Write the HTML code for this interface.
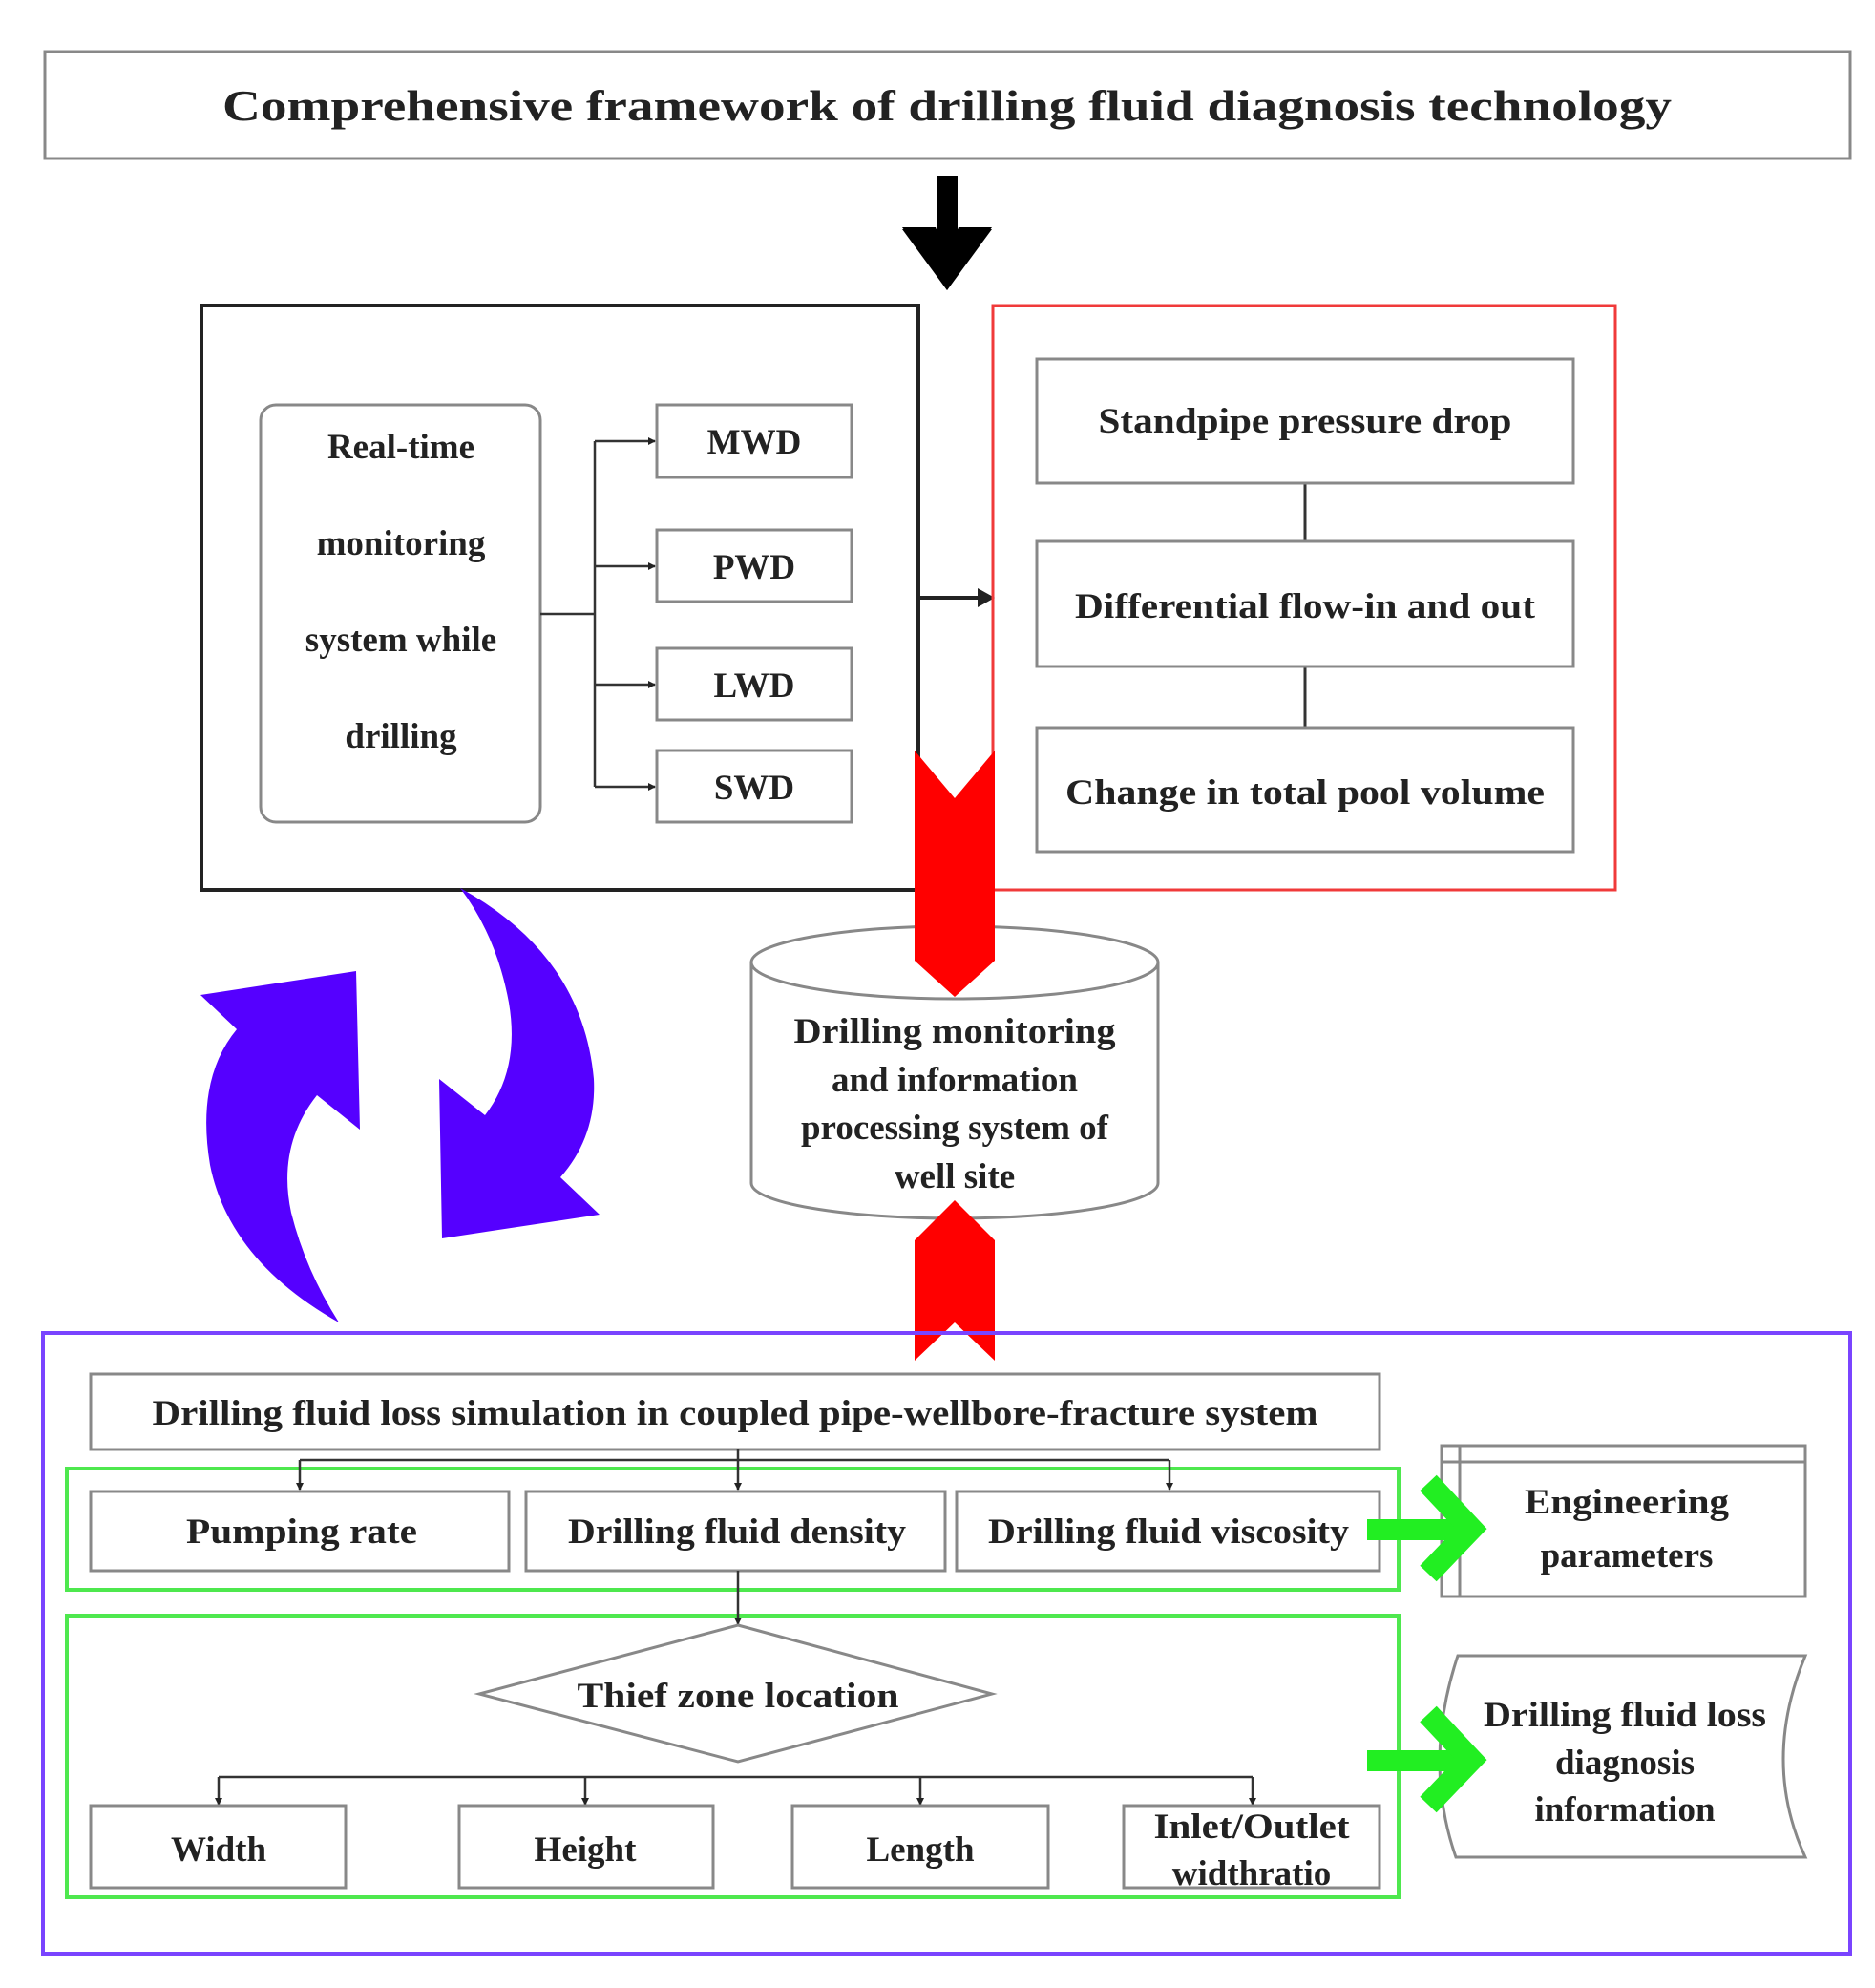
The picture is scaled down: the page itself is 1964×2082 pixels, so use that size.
<!DOCTYPE html>
<html><head><meta charset="utf-8"><style>
html,body{margin:0;padding:0;background:#fff}
svg{display:block}
text{font-family:"Liberation Serif",serif;font-weight:bold;fill:#222}
</style></head><body>
<svg width="1964" height="2082" viewBox="0 0 1964 2082" xmlns="http://www.w3.org/2000/svg">
<defs>
<marker id="ah" markerWidth="8" markerHeight="8" refX="7" refY="4" orient="auto" markerUnits="userSpaceOnUse"><path d="M0,0 L8,4 L0,8 z" fill="#222"/></marker>
</defs>
<!-- title -->
<rect x="47" y="54" width="1891" height="112" fill="#fff" stroke="#888" stroke-width="3"/>
<text x="992" y="126" font-size="46" text-anchor="middle" textLength="1518" lengthAdjust="spacingAndGlyphs">Comprehensive framework of drilling fluid diagnosis technology</text>
<!-- black arrow -->
<rect x="982" y="184" width="21" height="62" fill="#000"/>
<polygon points="945,240 1039,240 992,304" fill="#000"/>
<polygon points="945,238 980,238 992,270 1004,238 1039,238 992,304" fill="#000"/>

<!-- black box -->
<rect x="211" y="320" width="751" height="612" fill="none" stroke="#222" stroke-width="4"/>
<rect x="273" y="424" width="293" height="437" rx="16" fill="#fff" stroke="#888" stroke-width="3"/>
<g font-size="37" text-anchor="middle">
<text x="420" y="480">Real-time</text>
<text x="420" y="581">monitoring</text>
<text x="420" y="682">system while</text>
<text x="420" y="783">drilling</text>
</g>
<g stroke="#333" stroke-width="2.5" fill="none">
<line x1="566" y1="643" x2="623" y2="643"/>
<line x1="623" y1="462" x2="623" y2="824"/>
<line x1="623" y1="462" x2="686" y2="462" marker-end="url(#ah)"/>
<line x1="623" y1="593" x2="686" y2="593" marker-end="url(#ah)"/>
<line x1="623" y1="717" x2="686" y2="717" marker-end="url(#ah)"/>
<line x1="623" y1="824" x2="686" y2="824" marker-end="url(#ah)"/>
</g>
<g fill="#fff" stroke="#888" stroke-width="3">
<rect x="688" y="424" width="204" height="76"/>
<rect x="688" y="555" width="204" height="75"/>
<rect x="688" y="679" width="204" height="75"/>
<rect x="688" y="786" width="204" height="75"/>
</g>
<g font-size="37" text-anchor="middle">
<text x="790" y="475">MWD</text>
<text x="790" y="606">PWD</text>
<text x="790" y="730">LWD</text>
<text x="790" y="837">SWD</text>
</g>
<!-- arrow to red box -->
<line x1="962" y1="626" x2="1030" y2="626" stroke="#222" stroke-width="4"/>
<polygon points="1024,616 1042,626 1024,636" fill="#222"/>

<!-- red box -->
<rect x="1040" y="320" width="652" height="612" fill="none" stroke="#f03a3a" stroke-width="3"/>
<line x1="1367" y1="506" x2="1367" y2="567" stroke="#333" stroke-width="3"/>
<line x1="1367" y1="698" x2="1367" y2="762" stroke="#333" stroke-width="3"/>
<g fill="#fff" stroke="#888" stroke-width="3">
<rect x="1086" y="376" width="562" height="130"/>
<rect x="1086" y="567" width="562" height="131"/>
<rect x="1086" y="762" width="562" height="130"/>
</g>
<g font-size="37" text-anchor="middle">
<text x="1367" y="453" textLength="433" lengthAdjust="spacingAndGlyphs">Standpipe pressure drop</text>
<text x="1367" y="647" textLength="482" lengthAdjust="spacingAndGlyphs">Differential flow-in and out</text>
<text x="1367" y="842" textLength="502" lengthAdjust="spacingAndGlyphs">Change in total pool volume</text>
</g>

<!-- cylinder -->
<path d="M787,1008 L787,1239 A213,37 0 0 0 1213,1239 L1213,1008" fill="#fff" stroke="#888" stroke-width="3"/>
<ellipse cx="1000" cy="1008" rx="213" ry="38" fill="#fff" stroke="#888" stroke-width="3"/>
<!-- red arrows -->
<polygon points="958,786 1000,836 1042,786 1042,1006 1000,1044 958,1006" fill="#f00"/>
<polygon points="1000,1257 1042,1299 1042,1425 1000,1385 958,1425 958,1299" fill="#f00"/>
<g font-size="37" text-anchor="middle">
<text x="1000" y="1092" textLength="337" lengthAdjust="spacingAndGlyphs">Drilling monitoring</text>
<text x="1000" y="1143">and information</text>
<text x="1000" y="1193">processing system of</text>
<text x="1000" y="1244">well site</text>
</g>

<!-- purple cycle arrows -->
<path d="M210,1042 L373,1017 L377,1183 L332,1147 Q290,1200 305,1270 Q320,1330 355,1385 Q240,1320 220,1220 Q205,1130 248,1078 Z" fill="#5500ff"/>
<path d="M482,930 Q610,1000 622,1130 Q625,1190 587,1233 L628,1272 L463,1297 L460,1130 L508,1168 Q545,1120 533,1050 Q520,980 482,930 Z" fill="#5500ff"/>

<!-- purple box -->
<rect x="45" y="1396" width="1893" height="650" fill="none" stroke="#7a44ff" stroke-width="4"/>
<!-- sim box -->
<rect x="95" y="1439" width="1350" height="79" fill="#fff" stroke="#888" stroke-width="3"/>
<text x="770" y="1492" font-size="37" text-anchor="middle" textLength="1221" lengthAdjust="spacingAndGlyphs">Drilling fluid loss simulation in coupled pipe-wellbore-fracture system</text>
<!-- green box 1 -->
<rect x="70" y="1538" width="1395" height="127" fill="none" stroke="#4ee84e" stroke-width="4"/>
<g stroke="#333" stroke-width="2.5" fill="none">
<line x1="314" y1="1529" x2="1225" y2="1529"/>
<line x1="773" y1="1518" x2="773" y2="1560" marker-end="url(#ah)"/>
<line x1="314" y1="1529" x2="314" y2="1560" marker-end="url(#ah)"/>
<line x1="1225" y1="1529" x2="1225" y2="1560" marker-end="url(#ah)"/>
</g>
<g fill="#fff" stroke="#888" stroke-width="3">
<rect x="95" y="1562" width="438" height="83"/>
<rect x="551" y="1562" width="439" height="83"/>
<rect x="1002" y="1562" width="443" height="83"/>
</g>
<g font-size="37" text-anchor="middle">
<text x="316" y="1616" textLength="242" lengthAdjust="spacingAndGlyphs">Pumping rate</text>
<text x="772" y="1616" textLength="354" lengthAdjust="spacingAndGlyphs">Drilling fluid density</text>
<text x="1224" y="1616" textLength="378" lengthAdjust="spacingAndGlyphs">Drilling fluid viscosity</text>
</g>
<!-- engineering params -->
<rect x="1510" y="1514" width="381" height="158" fill="#fff" stroke="#888" stroke-width="3"/>
<line x1="1510" y1="1531" x2="1891" y2="1531" stroke="#888" stroke-width="3"/>
<line x1="1529" y1="1514" x2="1529" y2="1672" stroke="#888" stroke-width="3"/>
<g font-size="37" text-anchor="middle">
<text x="1704" y="1585" textLength="214" lengthAdjust="spacingAndGlyphs">Engineering</text>
<text x="1704" y="1641">parameters</text>
</g>
<!-- green arrow 1 -->
<rect x="1432" y="1591" width="100" height="22" fill="#22ee22"/>
<polyline points="1496,1553 1541,1601 1496,1648" fill="none" stroke="#22ee22" stroke-width="24"/>

<!-- green box 2 -->
<rect x="70" y="1692" width="1395" height="295" fill="none" stroke="#4ee84e" stroke-width="4"/>
<g stroke="#333" stroke-width="2.5" fill="none">
<line x1="773" y1="1645" x2="773" y2="1701" marker-end="url(#ah)"/>
<line x1="229" y1="1861" x2="1312" y2="1861"/>
<line x1="229" y1="1861" x2="229" y2="1890" marker-end="url(#ah)"/>
<line x1="613" y1="1861" x2="613" y2="1890" marker-end="url(#ah)"/>
<line x1="964" y1="1861" x2="964" y2="1890" marker-end="url(#ah)"/>
<line x1="1312" y1="1861" x2="1312" y2="1890" marker-end="url(#ah)"/>
</g>
<polygon points="773,1702 1039,1774 773,1845 502,1774" fill="#fff" stroke="#888" stroke-width="3"/>
<text x="773" y="1788" font-size="37" text-anchor="middle" textLength="337" lengthAdjust="spacingAndGlyphs">Thief zone location</text>
<g fill="#fff" stroke="#888" stroke-width="3">
<rect x="95" y="1891" width="267" height="86"/>
<rect x="481" y="1891" width="266" height="86"/>
<rect x="830" y="1891" width="268" height="86"/>
<rect x="1177" y="1891" width="268" height="86"/>
</g>
<g font-size="37" text-anchor="middle">
<text x="229" y="1949">Width</text>
<text x="613" y="1949">Height</text>
<text x="964" y="1949">Length</text>
<text x="1311" y="1925" textLength="205" lengthAdjust="spacingAndGlyphs">Inlet/Outlet</text>
<text x="1311" y="1974">widthratio</text>
</g>
<!-- doc shape -->
<path d="M1527,1734 L1891,1734 Q1845,1845 1891,1945 L1525,1945 Q1490,1845 1527,1734 Z" fill="#fff" stroke="#888" stroke-width="3"/>
<g font-size="37" text-anchor="middle">
<text x="1702" y="1808" textLength="296" lengthAdjust="spacingAndGlyphs">Drilling fluid loss</text>
<text x="1702" y="1858">diagnosis</text>
<text x="1702" y="1907">information</text>
</g>
<!-- green arrow 2 -->
<rect x="1432" y="1833" width="100" height="22" fill="#22ee22"/>
<polyline points="1496,1795 1541,1843 1496,1890" fill="none" stroke="#22ee22" stroke-width="24"/>
</svg>
</body></html>
